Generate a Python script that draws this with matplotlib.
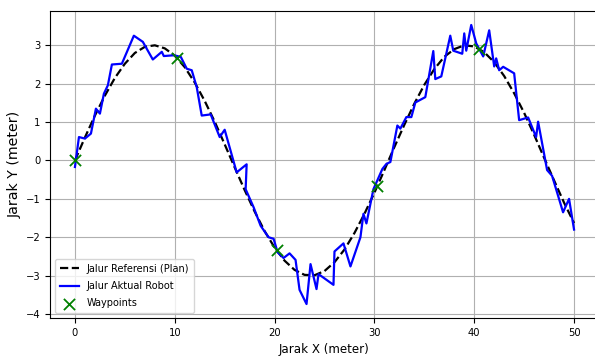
import matplotlib
matplotlib.use('Agg')
import matplotlib.pyplot as plt

# reference path (plan), sampled every 1 m
ref_x = list(range(0, 51))
ref_y = [0.00, 0.60, 1.17, 1.69, 2.15, 2.52, 2.80, 2.96, 3.00, 2.92,
         2.73, 2.43, 2.03, 1.55, 1.01, 0.42, -0.18, -0.77, -1.33, -1.84,
         -2.27, -2.61, -2.85, -2.98, -2.99, -2.88, -2.65, -2.32, -1.89, -1.39,
         -0.84, -0.25, 0.35, 0.93, 1.48, 1.97, 2.38, 2.70, 2.90, 3.00,
         2.97, 2.82, 2.56, 2.20, 1.75, 1.24, 0.67, 0.07, -0.52, -1.10,
         -1.63]

# actual robot path
act_x = [0.0, 0.4, 1.0, 1.6, 2.1, 2.5, 2.9, 3.3, 3.7, 4.7,
         5.9, 6.8, 7.8, 8.7, 8.9, 9.9, 10.6, 11.2, 11.7, 12.2,
         12.7, 13.6, 14.5, 15.0, 16.2, 17.2, 17.1, 17.9, 18.6, 19.4,
         19.9, 20.3, 20.9, 21.5, 22.1, 22.5, 23.2, 23.6, 24.2, 24.4,
         25.9, 26.0, 26.9, 27.6, 28.6, 28.9, 29.2, 29.9, 30.8, 31.2,
         31.6, 32.3, 32.6, 33.2, 33.7, 34.1, 35.1, 35.9, 36.1, 36.7,
         37.6, 37.9, 38.8, 39.0, 39.2, 39.7, 40.2, 40.9, 41.5, 42.0,
         42.2, 42.5, 42.9, 44.0, 44.5, 45.4, 46.2, 46.4, 47.3, 47.8,
         48.9, 49.5, 50.0]
act_y = [-0.17, 0.61, 0.57, 0.70, 1.35, 1.22, 1.74, 1.96, 2.50, 2.52,
         3.25, 3.09, 2.63, 2.83, 2.72, 2.74, 2.70, 2.39, 2.35, 1.91,
         1.17, 1.20, 0.61, 0.80, -0.31, -0.10, -0.75, -1.22, -1.70, -2.00,
         -2.04, -2.39, -2.54, -2.42, -2.59, -3.37, -3.74, -2.70, -3.35, -2.96,
         -3.24, -2.37, -2.16, -2.76, -2.00, -1.39, -1.64, -0.75, -0.22, -0.09,
         -0.04, 0.91, 0.83, 1.13, 1.13, 1.51, 1.65, 2.85, 2.12, 2.19,
         3.25, 2.86, 2.78, 3.31, 2.86, 3.53, 3.05, 2.71, 3.39, 2.45,
         2.66, 2.35, 2.44, 2.27, 1.05, 1.12, 0.61, 1.01, -0.25, -0.40,
         -1.35, -1.00, -1.80]

# waypoints
wp_x = [0.0, 10.2, 20.2, 30.3, 40.5]
wp_y = [0.0, 2.68, -2.34, -0.67, 2.91]

fig = plt.figure(figsize=(5.95, 3.56), dpi=100)
ax = fig.add_axes([50 / 595, 38 / 356, 549 / 595, 307 / 356])

ax.plot(ref_x, ref_y, 'k--', linewidth=1.6, label='Jalur Referensi (Plan)')
ax.plot(act_x, act_y, color='blue', linewidth=1.6, label='Jalur Aktual Robot')
ax.scatter(wp_x, wp_y, marker='x', color='green', s=65, linewidths=1.3,
           zorder=5, label='Waypoints')

ax.set_xlabel('Jarak X (meter)', fontsize=8.6)
ax.set_ylabel('Jarak Y (meter)', fontsize=10.2, labelpad=3)
ax.tick_params(labelsize=7.2)
ax.grid(True, color='#b0b0b0', linewidth=0.8)
ax.legend(loc='lower left', fontsize=7, labelspacing=0.75, borderpad=0.5)

fig.savefig('out.png', dpi=100)
